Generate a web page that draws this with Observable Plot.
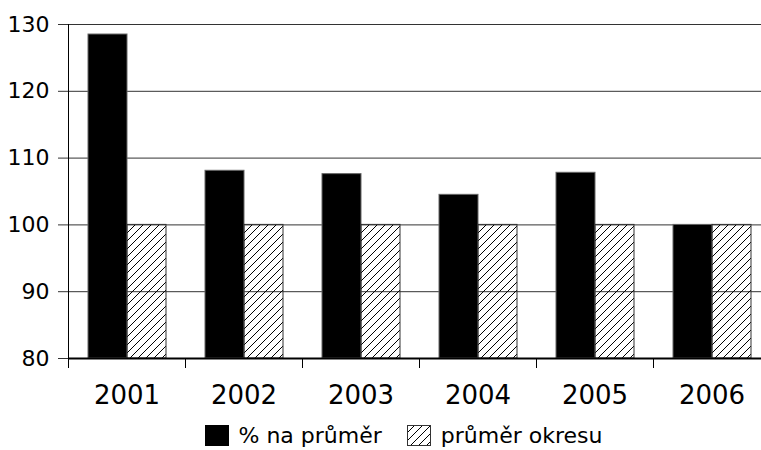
<!DOCTYPE html>
<html>
<head>
<meta charset="utf-8">
<script src="https://cdn.jsdelivr.net/npm/d3@7"></script>
<script src="https://cdn.jsdelivr.net/npm/@observablehq/plot@0.6"></script>
<style>
  html, body { margin: 0; padding: 0; background: white; }
  #chart { width: 761px; }
  .legend { display: flex; align-items: center; justify-content: center; width: 761px; box-sizing: border-box; padding-left: 46px; margin-top: 5px; height: 30px; font-family: "DejaVu Sans", sans-serif; font-size: 22px; color: black; }
  .legend .item { display: flex; align-items: center; }
  .legend svg { display: block; margin-right: 10px; }
  .legend .gap { width: 25px; }
</style>
</head>
<body>
<div id="chart"></div>
<script>
const years = ["2001", "2002", "2003", "2004", "2005", "2006"];
const seriesNames = ["% na průměr", "průměr okresu"];
const pctValues = [128.5, 108.1, 107.6, 104.5, 107.8, 100];
const districtValues = [100, 100, 100, 100, 100, 100];
const yTicks = [80, 90, 100, 110, 120, 130];
const yDomain = [80, 130];

const data = years.flatMap((yr, i) => [
  {year: yr, series: seriesNames[0], value: pctValues[i]},
  {year: yr, series: seriesNames[1], value: districtValues[i]}
]);

const plot = Plot.plot({
  width: 761,
  height: 415,
  marginTop: 24,
  marginBottom: 57,
  marginLeft: 68,
  marginRight: -9,
  style: {fontFamily: "DejaVu Sans, sans-serif", background: "white", color: "black", overflow: "hidden"},
  y: {domain: yDomain},
  fx: {domain: years, padding: 0},
  x: {domain: seriesNames, paddingInner: 0, paddingOuter: 0.5, axis: null},
  marks: [
    Plot.ruleY(yTicks, {stroke: "#333", strokeWidth: 1}),
    Plot.barY(data.filter(d => d.series === seriesNames[0]), {fx: "year", x: "series", y1: yDomain[0], y2: "value", fill: "black", stroke: "#666", strokeWidth: 1}),
    Plot.barY(data.filter(d => d.series === seriesNames[1]), {fx: "year", x: "series", y1: yDomain[0], y2: "value", fill: "url(#hatch)", stroke: "#333", strokeWidth: 1}),
    Plot.ruleY([yDomain[0]], {stroke: "black", strokeWidth: 2}),
    Plot.axisY(yTicks, {tickSize: 10, tickPadding: 9, fontSize: 22, label: null, stroke: "#333"}),
    Plot.axisFx({anchor: "bottom", tickSize: 0, tickPadding: 27, fontSize: 26, label: null})
  ]
});

document.getElementById("chart").appendChild(plot);

// hatch pattern
const svg = d3.select(plot);
const defs = svg.insert("defs", ":first-child");
defs.append("pattern")
  .attr("id", "hatch")
  .attr("patternUnits", "userSpaceOnUse")
  .attr("width", 8).attr("height", 8)
  .append("path")
  .attr("d", "M-2,2 l4,-4 M0,8 l8,-8 M6,10 l4,-4")
  .attr("stroke", "black").attr("stroke-width", 1).attr("fill", "none");

// axis lines and band-boundary ticks through the library's scales
const fxS = plot.scale("fx");
const yS = plot.scale("y");
const fxPos = v => fxS.apply ? fxS.apply(v) : fxS.range[0] + years.indexOf(v) * fxS.step;
const yPos = v => yS.apply ? yS.apply(v) : yS.range[0] + (v - yS.domain[0]) / (yS.domain[1] - yS.domain[0]) * (yS.range[1] - yS.range[0]);
const bw = fxS.bandwidth !== undefined ? fxS.bandwidth : fxS.step;
const bounds = years.map(fxPos).concat([fxPos(years[years.length - 1]) + bw]);
const g = svg.append("g").attr("stroke", "black").attr("stroke-width", 1);
const yBottom = yPos(yDomain[0]), yTop = yPos(yDomain[1]);
g.append("line").attr("x1", bounds[0] + 0.5).attr("x2", bounds[0] + 0.5).attr("y1", yTop).attr("y2", yBottom);
bounds.forEach(b => {
  g.append("line").attr("x1", Math.round(b) + 0.5).attr("x2", Math.round(b) + 0.5).attr("y1", yBottom).attr("y2", yBottom + 10);
});
</script>
<div class="legend">
  <div class="item">
    <svg width="24" height="21"><rect x="0" y="0" width="24" height="21" fill="black"/></svg>
    <span>% na průměr</span>
  </div>
  <div class="gap"></div>
  <div class="item">
    <svg width="24" height="21">
      <defs><pattern id="hatchL" patternUnits="userSpaceOnUse" width="8" height="8"><path d="M-2,2 l4,-4 M0,8 l8,-8 M6,10 l4,-4" stroke="black" stroke-width="1" fill="none"/></pattern></defs>
      <rect x="0.5" y="0.5" width="23" height="20" fill="url(#hatchL)" stroke="#333"/>
    </svg>
    <span>průměr okresu</span>
  </div>
</div>
</body>
</html>
